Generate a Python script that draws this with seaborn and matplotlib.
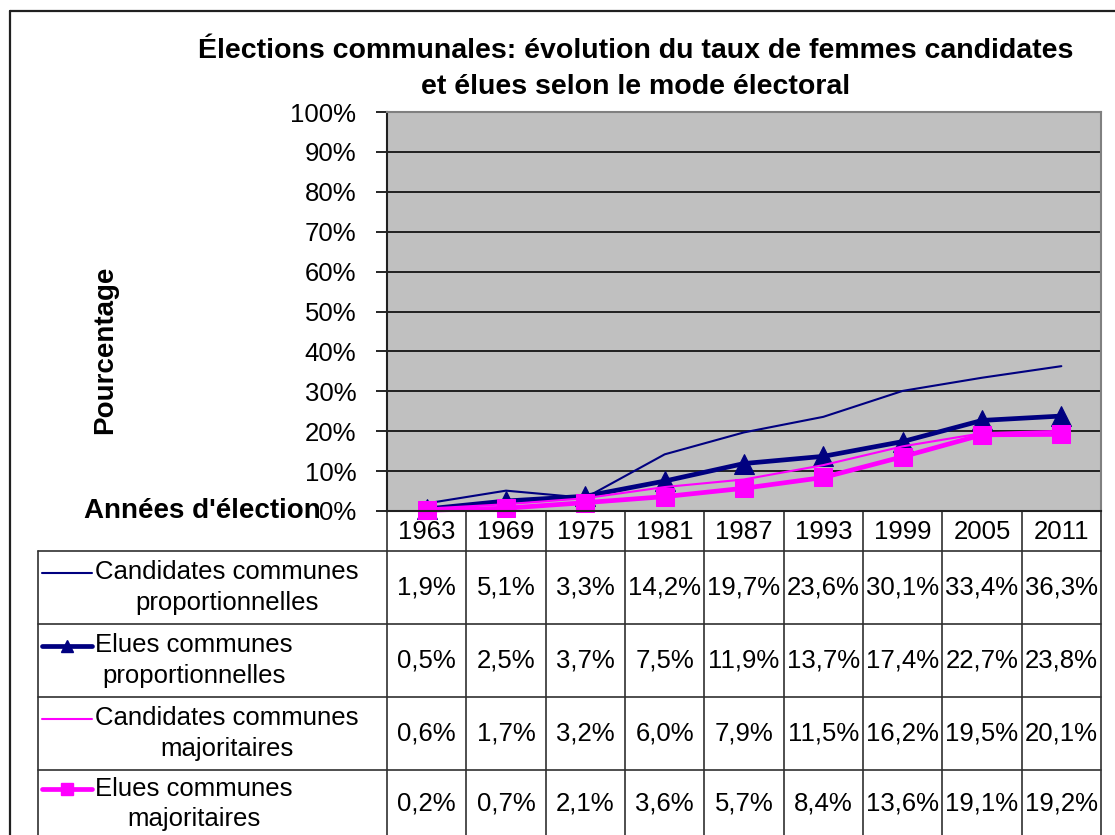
import numpy as np
import pandas as pd
import matplotlib
matplotlib.use("Agg")
import matplotlib.pyplot as plt
import seaborn as sns

# data
years = ["1963", "1969", "1975", "1981", "1987", "1993", "1999", "2005", "2011"]
cand_prop = [1.9, 5.1, 3.3, 14.2, 19.7, 23.6, 30.1, 33.4, 36.3]
elues_prop = [0.5, 2.5, 3.7, 7.5, 11.9, 13.7, 17.4, 22.7, 23.8]
cand_maj = [0.6, 1.7, 3.2, 6.0, 7.9, 11.5, 16.2, 19.5, 20.1]
elues_maj = [0.2, 0.7, 2.1, 3.6, 5.7, 8.4, 13.6, 19.1, 19.2]
series_labels = ["Candidates communes\nproportionnelles",
                 "Elues communes\nproportionnelles",
                 "Candidates communes\nmajoritaires",
                 "Elues communes\nmajoritaires"]
y_ticks = [0, 10, 20, 30, 40, 50, 60, 70, 80, 90, 100]

sns.set_style("white")
plt.rcParams["font.family"] = ["Liberation Sans", "DejaVu Sans"]
plt.rcParams["text.color"] = "black"
plt.rcParams["ytick.color"] = "black"
plt.rcParams["axes.labelcolor"] = "black"

W, H = 1115, 835
fig = plt.figure(figsize=(W / 100, H / 100), dpi=100)

# plot area in pixels
px_left, px_right, px_top, px_bottom = 387, 1101, 112, 511
ax = fig.add_axes([px_left / W, 1 - px_bottom / H,
                   (px_right - px_left) / W, (px_bottom - px_top) / H])
ax.set_zorder(3)

navy = "#000080"
magenta = "#FF00FF"
styles = [
    dict(color=navy, linewidth=1.5, marker=None),
    dict(color=navy, linewidth=3.4, marker="^", markersize=14),
    dict(color=magenta, linewidth=1.5, marker=None),
    dict(color=magenta, linewidth=3.4, marker="s", markersize=12.5),
]
values = [cand_prop, elues_prop, cand_maj, elues_maj]
x = np.arange(len(years))

for vals, st in zip(values, styles):
    df = pd.DataFrame({"x": x, "y": vals})
    sns.lineplot(data=df, x="x", y="y", ax=ax, sort=False,
                 markeredgecolor=st["color"], clip_on=False, **st)

ax.set_facecolor("#C0C0C0")
ax.set_xlim(-0.5, len(years) - 0.5)
ax.set_ylim(0, 100)
ax.set_yticks(y_ticks)
ax.set_yticklabels([f"{v}%" for v in y_ticks], fontsize=18.5, color="black")
ax.set_xticks([])
ax.set_xlabel("")
ax.set_ylabel("")
ax.tick_params(axis="y", direction="out", length=8, width=1.2, color="black", pad=14, left=True)
for v in y_ticks[1:-1]:
    ax.axhline(v, color="#202020", linewidth=1.4, zorder=0.5)
for side in ["top", "right"]:
    ax.spines[side].set_color("#808080")
    ax.spines[side].set_linewidth(1.5)
ax.spines["left"].set_color("#202020")
ax.spines["left"].set_linewidth(1.5)
ax.spines["bottom"].set_color("#202020")
ax.spines["bottom"].set_linewidth(1.5)

# overlay in pixel coordinates for titles, frame and data table
ov = fig.add_axes([0, 0, 1, 1])
ov.set_zorder(1)
ov.patch.set_alpha(0)
ov.set_xlim(0, W)
ov.set_ylim(H, 0)
ov.axis("off")

ov.plot([10, W], [11, 11], color="#202020", linewidth=1.6)
ov.plot([10, 10], [11, H], color="#202020", linewidth=1.6)

ov.text(636, 69, "Élections communales: évolution du taux de femmes candidates\net élues selon le mode électoral",
        ha="center", va="center", fontsize=20.5, fontweight="bold", linespacing=1.55)
ov.text(105, 350, "Pourcentage", rotation=90, ha="center", va="center",
        fontsize=20, fontweight="bold")
ov.text(321, 511, "Années d'élection", ha="right", va="center", fontsize=20, fontweight="bold")

# data table
col_edges = np.linspace(px_left, px_right, len(years) + 1)
col_centers = (col_edges[:-1] + col_edges[1:]) / 2
row_edges = [551, 624, 697, 770, 840]
tab_left = 38
line_kw = dict(color="#303030", linewidth=1.2)

for xe in col_edges:
    ov.plot([xe, xe], [px_bottom, H], **line_kw)
ov.plot([tab_left, tab_left], [row_edges[0], H], **line_kw)
for ye in row_edges[:-1]:
    ov.plot([tab_left, px_right], [ye, ye], **line_kw)

for xc, yr in zip(col_centers, years):
    ov.text(xc, 532, yr, ha="center", va="center", fontsize=18.5)

for i, (lab, vals, st) in enumerate(zip(series_labels, values, styles)):
    y0, y1 = row_edges[i], min(row_edges[i + 1], 838)
    yc = (y0 + y1) / 2
    ykey = yc - 15
    ov.plot([42, 92], [ykey, ykey], color=st["color"], linewidth=st["linewidth"])
    if st["marker"]:
        ov.plot([67], [ykey], marker=st["marker"], color=st["color"], markersize=9)
    ov.text(95, yc, lab, ha="left", va="center", multialignment="center",
            fontsize=18.5, linespacing=1.33)
    for xc, v in zip(col_centers, vals):
        ov.text(xc, yc, f"{v:.1f}%".replace(".", ","), ha="center", va="center", fontsize=18.5)

fig.savefig("out.png", dpi=100)
